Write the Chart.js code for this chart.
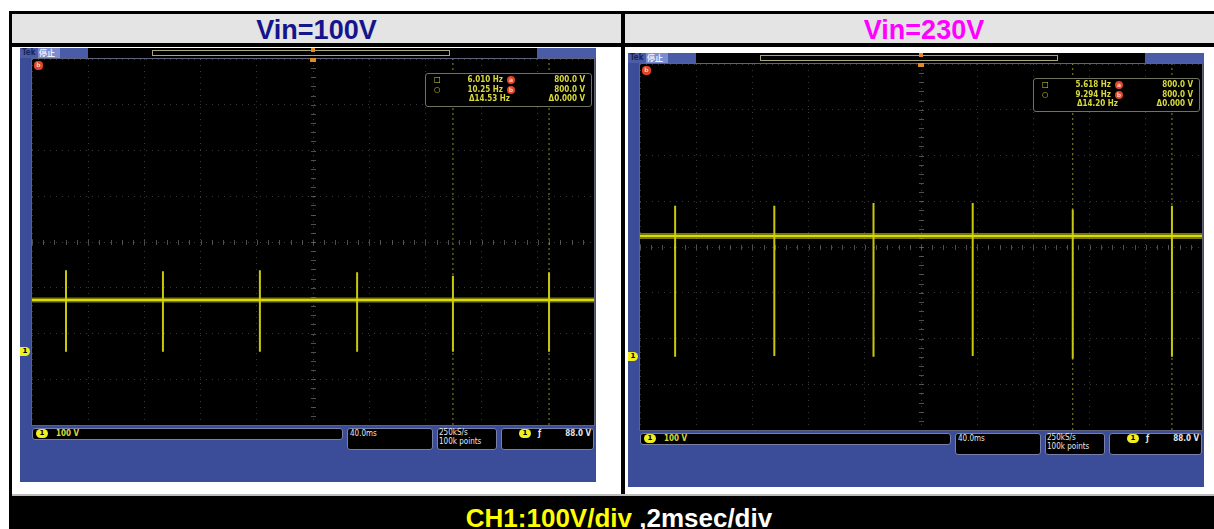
<!DOCTYPE html>
<html>
<head>
<meta charset="utf-8">
<script src="https://cdn.jsdelivr.net/npm/chart.js@4"></script>
<style>
body { margin: 0; background: #fff; font-family: "Liberation Sans", Arial, sans-serif; }
#page { position: relative; width: 1214px; height: 529px; overflow: hidden; background: #fff; }
.blk { position: absolute; background: #000; }
.head { position: absolute; font-weight: bold; font-size: 27px; text-align: center; line-height: 30px; }
.scope { position: absolute; width: 576px; height: 434px; background: #3b4d98; overflow: hidden; }
.scope .plot { position: absolute; left: 12px; top: 11px; width: 562px; height: 366px; background: #000; box-shadow: 0 0 0 1px #5d6378; }
.tiny { font-family: "DejaVu Sans Condensed", "DejaVu Sans", sans-serif; font-weight: bold; font-size: 8px; color: #d9d93c; white-space: nowrap; }
.box { position: absolute; background: #000; border: 1px solid #7880a8; border-radius: 3px; box-sizing: border-box; }
.oval { position: absolute; width: 12px; height: 9px; border-radius: 5px; background: #f0f020; color: #000; font: bold 7px "DejaVu Sans", sans-serif; text-align: center; line-height: 9px; }
.abc { position: absolute; width: 8px; height: 8px; border-radius: 4px; background: #e0452a; color: #ffd0c0; font: bold 6px "DejaVu Sans", sans-serif; text-align: center; line-height: 8px; }
</style>
</head>
<body>
<div id="page"></div>
<script>
// table header / footer
const hdrLabels = ["Vin=100V", "Vin=230V"];
const hdrColors = ["#14148c", "#ff00ff"];
const footerParts = ["CH1:100V/div", " ,2msec/div"];

// graticule: 10 x 2ms, 8 x 100V, ch1 ground 2.4 div under centre
const xMinMs = -10, xMaxMs = 10, xDivMs = 2;
const yMinV = -160, yMaxV = 640, yDivV = 100;

// Vin=100V
const spikeMs100 = [-8.79, -5.34, -1.89, 1.57, 4.98, 8.40];
const spikeTopV100 = [178, 176, 178, 174, 166, 174];
const spikeLowV100 = [0, 0, 0, 0, 0, 0];
const baseV100 = 113;
const cursorMs100 = [4.98, 8.40];
const readHz100 = ["6.010 Hz", "10.25 Hz", "\u039414.53 Hz"];

// Vin=230V
const spikeMs230 = [-8.75, -5.22, -1.69, 1.84, 5.40, 8.93];
const spikeTopV230 = [330, 330, 336, 336, 322, 330];
const spikeLowV230 = [0, 2, 0, 2, -4, 0];
const baseV230 = 264;
const cursorMs230 = [5.40, 8.93];
const readHz230 = ["5.618 Hz", "9.294 Hz", "\u039414.20 Hz"];

const readV = ["800.0 V", "800.0 V", "\u03940.000 V"];
const chScale = "100 V";
const timeBase = "40.0ms";
const sampleRate = ["250kS/s", "100k points"];
const trigLevel = "88.0 V";

const page = document.getElementById("page");

function add(html) {
  page.insertAdjacentHTML("beforeend", html);
}

// table frame
add('<div class="blk" style="left:9px;top:11px;width:1205px;height:3px"></div>');
add('<div style="position:absolute;left:12px;top:14px;width:1202px;height:29px;background:#e4e4e4"></div>');
add('<div class="blk" style="left:9px;top:43px;width:1205px;height:4px"></div>');
add('<div class="blk" style="left:9px;top:11px;width:3px;height:486px"></div>');
add('<div class="blk" style="left:621px;top:11px;width:4px;height:486px"></div>');
add('<div style="position:absolute;left:12px;top:494px;width:1202px;height:2px;background:#bbb"></div>');
add('<div class="blk" style="left:9px;top:496px;width:1205px;height:33px"></div>');
add('<div class="head" style="left:12px;top:15px;width:609px;color:' + hdrColors[0] + '">' + hdrLabels[0] + '</div>');
add('<div class="head" style="left:625px;top:15px;width:598px;color:' + hdrColors[1] + '">' + hdrLabels[1] + '</div>');
add('<div style="position:absolute;left:0;top:503px;width:1238px;text-align:center;font-weight:bold;font-size:26px;line-height:30px">' +
  '<span style="color:#ffff00">' + footerParts[0] + '</span><span style="color:#fff">' + footerParts[1] + '</span></div>');

function scopeHTML(id, left, top, hz) {
  let h = '<div class="scope" style="left:' + left + 'px;top:' + top + 'px">';
  // status bar
  h += '<div style="position:absolute;left:0;top:0;width:576px;height:10px;background:#4a5ca8"></div>';
  h += '<div class="tiny" style="position:absolute;left:2px;top:0;font-size:8px;line-height:9px;color:#1c2450">Tek</div>';
  h += '<div style="position:absolute;left:18px;top:0;width:22px;height:10px;background:#7c8cd0"></div>';
  h += '<div class="tiny" style="position:absolute;left:19px;top:0;font:bold 8px \'Noto Sans CJK SC\';line-height:9px;color:#eef0ff">停止</div>';
  h += '<div style="position:absolute;left:68px;top:0;width:449px;height:10px;background:#000"></div>';
  h += '<div style="position:absolute;left:132px;top:2px;width:296px;height:4px;border:1px solid #a6a67a"></div>';
  h += '<div style="position:absolute;left:291px;top:0;width:4px;height:4px;background:#e08a2a"></div>';
  // plot
  h += '<div class="plot"><canvas id="' + id + '" width="562" height="366"></canvas></div>';
  // top markers
  h += '<div class="abc" style="left:14px;top:13px;width:9px;height:9px">b</div>';
  h += '<div style="position:absolute;left:290px;top:10px;width:6px;height:4px;background:#e08a2a"></div>';
  // ch1 ground marker
  h += '<div class="oval" style="left:0;top:299px;width:10px;border-radius:0 5px 5px 0">1</div>';
  // readout
  h += '<div class="box" style="left:405px;top:25px;width:167px;height:34px;border-color:#6f7460"></div>';
  const syms = ['\u25A1', '\u25CB', ''];
  const abc = ['a', 'b', ''];
  for (let i = 0; i < 3; i++) {
    const y = 27 + i * 9.5;
    h += '<div class="tiny" style="position:absolute;left:414px;top:' + y + 'px;line-height:10px">' + syms[i] + '</div>';
    h += '<div class="tiny" style="position:absolute;left:405px;top:' + y + 'px;width:' + (i == 2 ? 85 : 78) + 'px;text-align:right;line-height:10px">' + hz[i] + '</div>';
    if (abc[i]) h += '<div class="abc" style="left:' + 487 + 'px;top:' + (y + 1) + 'px">' + abc[i] + '</div>';
    h += '<div class="tiny" style="position:absolute;left:405px;top:' + y + 'px;width:160px;text-align:right;line-height:10px">' + readV[i] + '</div>';
  }
  // bottom info
  h += '<div class="box" style="left:12px;top:380px;width:311px;height:12px"></div>';
  h += '<div class="oval" style="left:16px;top:381px">1</div>';
  h += '<div class="tiny" style="position:absolute;left:36px;top:380px;line-height:11px">' + chScale + '</div>';
  h += '<div class="box" style="left:327px;top:380px;width:86px;height:22px"></div>';
  h += '<div class="tiny" style="position:absolute;left:330px;top:380px;line-height:11px;color:#e8e8e8;font-weight:normal">' + timeBase + '</div>';
  h += '<div class="box" style="left:417px;top:380px;width:60px;height:22px"></div>';
  h += '<div class="tiny" style="position:absolute;left:419px;top:380px;line-height:9px;color:#e8e8e8;font-weight:normal">' + sampleRate[0] + '<br>' + sampleRate[1] + '</div>';
  h += '<div class="box" style="left:481px;top:380px;width:93px;height:22px"></div>';
  h += '<div class="oval" style="left:499px;top:381px">1</div>';
  h += '<div class="tiny" style="position:absolute;left:518px;top:380px;line-height:11px;color:#e8e8e8">\u0192</div>';
  h += '<div class="tiny" style="position:absolute;left:481px;top:380px;width:90px;text-align:right;line-height:11px;color:#e8e8e8">' + trigLevel + '</div>';
  h += '</div>';
  return h;
}

add(scopeHTML("scope100", 20, 48, readHz100));
add(scopeHTML("scope230", 628, 53, readHz230));

// centre-line ticks of the graticule
const graticule = {
  id: "graticule",
  beforeDatasetsDraw(chart) {
    const ctx = chart.ctx, xs = chart.scales.x, ys = chart.scales.y;
    const cx = xs.getPixelForValue((xMinMs + xMaxMs) / 2);
    const cy = ys.getPixelForValue((yMinV + yMaxV) / 2);
    ctx.save();
    ctx.strokeStyle = "rgba(130,130,130,0.6)";
    ctx.lineWidth = 1;
    ctx.beginPath();
    for (let v = xMinMs; v <= xMaxMs; v += xDivMs / 5) {
      const px = Math.round(xs.getPixelForValue(v)) + 0.5;
      ctx.moveTo(px, cy - 2); ctx.lineTo(px, cy + 3);
    }
    for (let v = yMinV; v <= yMaxV; v += yDivV / 5) {
      const py = Math.round(ys.getPixelForValue(v)) + 0.5;
      ctx.moveTo(cx - 2, py); ctx.lineTo(cx + 3, py);
    }
    ctx.stroke();
    ctx.restore();
  }
};

function makeScope(canvasId, spikeMs, topV, lowV, baseV, cursors, baseW) {
  const spikeData = [];
  spikeMs.forEach((t, i) => {
    spikeData.push({ x: t, y: topV[i] }, { x: t, y: lowV[i] }, { x: t, y: null });
  });
  const curData = [];
  cursors.forEach((c) => {
    curData.push({ x: c, y: yMinV }, { x: c, y: yMaxV }, { x: c, y: null });
  });
  const base = [{ x: xMinMs, y: baseV }, { x: xMaxMs, y: baseV }];

  return new Chart(document.getElementById(canvasId), {
    type: "line",
    data: {
      datasets: [
        { data: curData, borderColor: "rgba(200,200,60,0.7)", borderWidth: 1, borderDash: [2, 3], pointRadius: 0, spanGaps: false },
        { data: base, borderColor: "rgba(200,200,0,0.6)", borderWidth: baseW, pointRadius: 0 },
        { data: base, borderColor: "#f4f40a", borderWidth: 2, pointRadius: 0 },
        { data: spikeData, borderColor: "rgba(235,235,10,0.85)", borderWidth: 2, pointRadius: 0, spanGaps: false },
      ],
    },
    options: {
      responsive: false,
      animation: false,
      events: [],
      layout: { padding: 0 },
      plugins: { legend: { display: false }, tooltip: { enabled: false } },
      scales: {
        x: {
          type: "linear", min: xMinMs, max: xMaxMs,
          ticks: { display: false, stepSize: xDivMs },
          grid: { color: "rgba(110,110,110,0.5)", drawTicks: false },
          border: { display: false, dash: [1, 5] },
        },
        y: {
          type: "linear", min: yMinV, max: yMaxV,
          afterBuildTicks: (axis) => {
            const t = [];
            for (let v = yMinV; v <= yMaxV; v += yDivV) t.push({ value: v });
            axis.ticks = t;
          },
          ticks: { display: false },
          grid: { color: "rgba(110,110,110,0.5)", drawTicks: false },
          border: { display: false, dash: [1, 5] },
        },
      },
    },
    plugins: [graticule],
  });
}

makeScope("scope100", spikeMs100, spikeTopV100, spikeLowV100, baseV100, cursorMs100, 5);
makeScope("scope230", spikeMs230, spikeTopV230, spikeLowV230, baseV230, cursorMs230, 6);
</script>
</body>
</html>
